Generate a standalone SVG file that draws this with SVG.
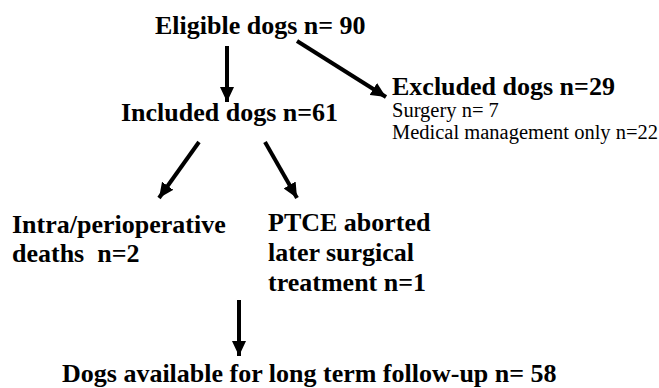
<svg xmlns="http://www.w3.org/2000/svg" width="659" height="388" viewBox="0 0 659 388">
<style>
.b{font-family:"Liberation Serif","Times New Roman",serif;font-weight:bold;font-size:26px;fill:#000}
.r{font-family:"Liberation Serif","Times New Roman",serif;font-size:20.5px;fill:#000}
.c{stroke:#000;stroke-width:4;fill:none;marker-end:url(#ah)}
</style>
<defs>
<marker id="ah" markerUnits="userSpaceOnUse" markerWidth="16" markerHeight="14" refX="15" refY="7" orient="auto">
<path d="M0,0 L15,7 L0,14 z" fill="#000"/>
</marker>
</defs>
<rect width="659" height="388" fill="#fff"/>
<g id="connectors">
<line class="c" x1="227" y1="46" x2="227" y2="102"/>
<line class="c" x1="297" y1="41" x2="386" y2="97"/>
<line class="c" x1="199" y1="142" x2="159" y2="198"/>
<line class="c" x1="265" y1="142" x2="297" y2="198"/>
<line class="c" x1="239" y1="300" x2="239" y2="356"/>
</g>
<g id="eligible"><text class="b" x="155" y="34">Eligible dogs n= 90</text></g>
<g id="included"><text class="b" x="121" y="121">Included dogs n=61</text></g>
<g id="excluded">
<text class="b" x="392" y="95">Excluded dogs n=29</text>
<text class="r" x="392" y="117">Surgery n= 7</text>
<text class="r" x="392" y="139">Medical management only n=22</text>
</g>
<g id="deaths">
<text class="b" x="12" y="233">Intra/perioperative</text>
<text class="b" x="12" y="262" xml:space="preserve">deaths  n=2</text>
</g>
<g id="aborted">
<text class="b" x="268" y="231">PTCE aborted</text>
<text class="b" x="268" y="261">later surgical</text>
<text class="b" x="268" y="291">treatment n=1</text>
</g>
<g id="followup"><text class="b" x="62" y="382">Dogs available for long term follow-up n= 58</text></g>
</svg>
